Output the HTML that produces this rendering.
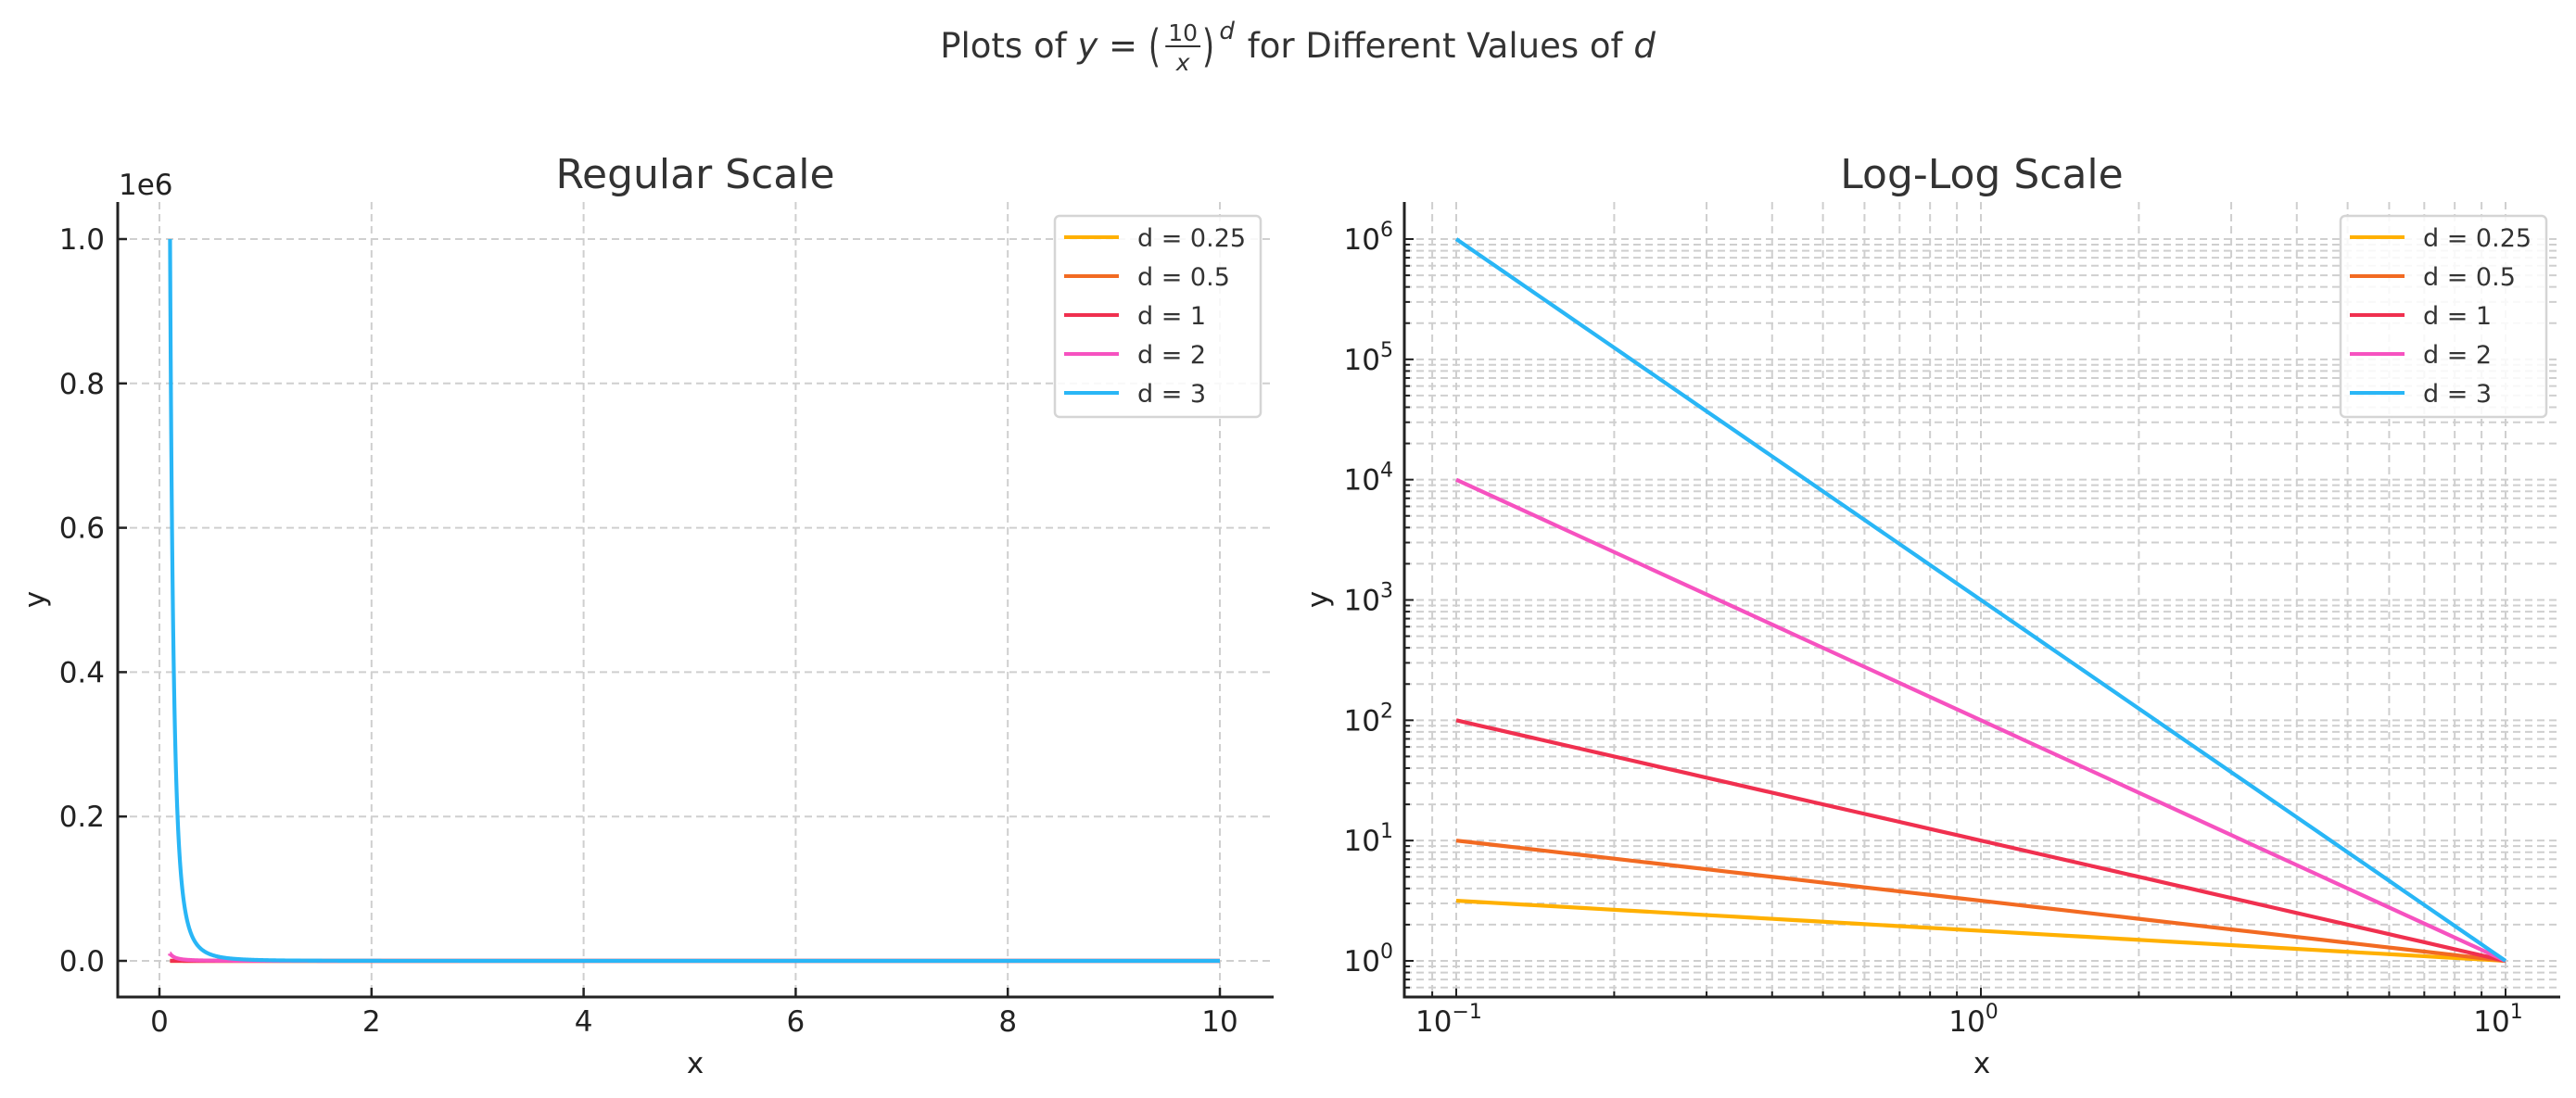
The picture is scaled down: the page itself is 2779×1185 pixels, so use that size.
<!DOCTYPE html>
<html><head><meta charset="utf-8">
<style>
html,body{margin:0;padding:0;background:#fff;}
svg{display:block;font-family:"DejaVu Sans","Liberation Sans",sans-serif;}
#suptitle text{white-space:pre;}
</style></head>
<body>
<svg id="chart" width="2779" height="1185" viewBox="0 0 2779 1185" xmlns="http://www.w3.org/2000/svg">
<rect width="2779" height="1185" fill="#fff"/>
<g id="suptitle"></g>
<g id="left"></g>
<g id="right"></g>
</svg>
<script>
const dValues = [0.25, 0.5, 1, 2, 3];
const seriesLabels = ["d = 0.25", "d = 0.5", "d = 1", "d = 2", "d = 3"];
const seriesColors = ["#FFB000", "#F26A22", "#F0304F", "#F652C0", "#29B6F6"];
const xStart = 0.1, xEnd = 10;
const linTicksX = [0, 2, 4, 6, 8, 10];
const linTicksY = [0, 0.2, 0.4, 0.6, 0.8, 1.0];
const logTicksX = [-1, 0, 1];
const logTicksY = [0, 1, 2, 3, 4, 5, 6];

const NS = "http://www.w3.org/2000/svg";
function el(parent, tag, attrs, text) {
  const e = document.createElementNS(NS, tag);
  for (const k in attrs) e.setAttribute(k, attrs[k]);
  if (text !== undefined) e.textContent = text;
  parent.appendChild(e);
  return e;
}
const gridStyle = {stroke: "#cfcfcf", "stroke-width": 2, "stroke-dasharray": "8,5", fill: "none"};
function fy(x, d) { return Math.pow(10 / x, d); }

// ---- Suptitle ----
(function () {
  const g = document.getElementById('suptitle');
  const base = 62, fs = 37, col = "#333";
  const parts = [];
  let x = 0;
  function add(txt, opts) {
    const t = el(g, 'text', Object.assign({x: 0, y: base, "font-size": fs, fill: col, "xml:space": "preserve"}, opts || {}), txt);
    const w = t.getComputedTextLength();
    parts.push({t: t, x: x, w: w});
    x += w;
    return t;
  }
  add("Plots of ");
  add("y", {"font-style": "italic"});
  add(" = ");
  const lp = add("(", {"font-size": 42});
  const fx = x + 2;
  const num = el(g, 'text', {x: 0, y: base - 18, "font-size": 25, fill: col, "text-anchor": "middle"}, "10");
  const den = el(g, 'text', {x: 0, y: base + 14, "font-size": 25, fill: col, "text-anchor": "middle", "font-style": "italic"}, "x");
  const fw = num.getComputedTextLength() + 6;
  const bar = el(g, 'line', {x1: 0, x2: 0, y1: base - 12, y2: base - 12, stroke: col, "stroke-width": 2});
  x += fw + 4;
  const rp = add(")", {"font-size": 42});
  const dsup = el(g, 'text', {x: 0, y: base - 20, "font-size": 26, fill: col, "font-style": "italic"}, "d");
  const dsx = x + 2;
  x += dsup.getComputedTextLength() + 4;
  add(" for Different Values of ");
  add("d", {"font-style": "italic"});
  const total = x;
  const x0 = 1400 - total / 2;
  parts.forEach(p => {
    if (p.t === lp || p.t === rp) {
      p.t.setAttribute('transform', `translate(${x0 + p.x},${base + 4}) scale(0.8,1.15)`);
      p.t.setAttribute('x', 0); p.t.setAttribute('y', 0);
    } else p.t.setAttribute('x', x0 + p.x);
  });
  num.setAttribute('x', x0 + fx + fw / 2);
  den.setAttribute('x', x0 + fx + fw / 2);
  bar.setAttribute('x1', x0 + fx);
  bar.setAttribute('x2', x0 + fx + fw);
  dsup.setAttribute('x', x0 + dsx);
})();

// ---- Left: regular scale ----
(function () {
  const g = document.getElementById('left');
  const L = 127, R = 1374, T = 218, B = 1076;
  const sx = v => 172 + (v - 0) * (1316 - 172) / 10;
  const sy = v => 1037 - v * (1037 - 258) / 1e6;
  linTicksX.forEach(t => {
    const gl = el(g, 'line', Object.assign({x1: sx(t), x2: sx(t), y1: T, y2: B}, gridStyle));
    
    
    el(g, 'line', {x1: sx(t), x2: sx(t), y1: B, y2: B - 10, stroke: "#222", "stroke-width": 2.5});
    const tl = el(g, 'text', {x: sx(t), y: 1113, "text-anchor": "middle", "font-size": 31, fill: "#222"}, String(t));
    
    
  });
  linTicksY.forEach(t => {
    const yy = sy(t * 1e6);
    const gl = el(g, 'line', Object.assign({x1: L, x2: R, y1: yy, y2: yy}, gridStyle));
    
    
    el(g, 'line', {x1: L, x2: L + 10, y1: yy, y2: yy, stroke: "#222", "stroke-width": 2.5});
    const tl = el(g, 'text', {x: 113, y: yy + 11, "text-anchor": "end", "font-size": 31, fill: "#222"}, t.toFixed(1));
    
    
  });
  const off = el(g, 'text', {x: 128, y: 210, "font-size": 31, fill: "#222"}, "1e6");
  
  
  dValues.forEach((d, i) => {
    let pts = [];
    const N = 600;
    for (let k = 0; k <= N; k++) {
      const x = xStart + (xEnd - xStart) * Math.pow(k / N, 2.2);
      pts.push(sx(x).toFixed(2) + "," + sy(fy(x, d)).toFixed(2));
    }
    const p = el(g, 'polyline', {points: pts.join(" "), fill: "none", stroke: seriesColors[i], "stroke-width": 4.2});
    
    
  });
  el(g, 'path', {d: `M${L},${T} V${B} H${R}`, fill: "none", stroke: "#222", "stroke-width": 3});
  const ttl = el(g, 'text', {x: 750, y: 203, "text-anchor": "middle", "font-size": 44, fill: "#333"}, "Regular Scale");
  
  
  const xl = el(g, 'text', {x: 750, y: 1158, "text-anchor": "middle", "font-size": 31, fill: "#222"}, "x");
  
  
  const yl = el(g, 'text', {x: 0, y: 0, transform: "translate(48,647) rotate(-90)", "text-anchor": "middle", "font-size": 31, fill: "#222"}, "y");
  
  
  legend(g, 1138, 233);
})();

// ---- Right: log-log ----
(function () {
  const g = document.getElementById('right');
  const L = 1515, R = 2762, T = 218, B = 1076;
  const sx = v => 1571 + (Math.log10(v) + 1) * (2703 - 1571) / 2;
  const sy = v => 1037 - Math.log10(v) * (1037 - 258) / 6;
  for (let e = -2; e <= 1; e++) for (let m = 1; m <= 9; m++) {
    const v = m * Math.pow(10, e);
    const X = sx(v);
    if (X < L + 2 || X > R - 2) continue;
    const gl = el(g, 'line', Object.assign({x1: X, x2: X, y1: T, y2: B}, gridStyle));
    
    
    el(g, 'line', {x1: X, x2: X, y1: B, y2: B - (m === 1 ? 10 : 6), stroke: "#222", "stroke-width": 2});
  }
  for (let e = -1; e <= 6; e++) for (let m = 1; m <= 9; m++) {
    const v = m * Math.pow(10, e);
    const Y = sy(v);
    if (Y < T + 2 || Y > B - 2) continue;
    const gl = el(g, 'line', Object.assign({x1: L, x2: R, y1: Y, y2: Y}, gridStyle));
    
    
    el(g, 'line', {x1: L, x2: L + (m === 1 ? 10 : 6), y1: Y, y2: Y, stroke: "#222", "stroke-width": 2});
  }
  logTicksX.forEach(t => {
    const X = sx(Math.pow(10, t));
    const tl = el(g, 'text', {x: X - 8, y: 1113, "text-anchor": "middle", "font-size": 31, fill: "#222"});
    
    
    el(tl, 'tspan', {}, "10");
    el(tl, 'tspan', {"font-size": 22, dy: -14}, t < 0 ? "\u2212" + (-t) : String(t));
  });
  logTicksY.forEach(t => {
    const Y = sy(Math.pow(10, t));
    const tl = el(g, 'text', {x: 1503, y: Y + 11, "text-anchor": "end", "font-size": 31, fill: "#222"});
    
    
    el(tl, 'tspan', {}, "10");
    el(tl, 'tspan', {"font-size": 22, dy: -14}, String(t));
  });
  dValues.forEach((d, i) => {
    let pts = [];
    const N = 50;
    for (let k = 0; k <= N; k++) {
      const x = xStart * Math.pow(xEnd / xStart, k / N);
      pts.push(sx(x).toFixed(2) + "," + sy(fy(x, d)).toFixed(2));
    }
    const p = el(g, 'polyline', {points: pts.join(" "), fill: "none", stroke: seriesColors[i], "stroke-width": 4.2});
    
    
  });
  el(g, 'path', {d: `M${L},${T} V${B} H${R}`, fill: "none", stroke: "#222", "stroke-width": 3});
  const ttl = el(g, 'text', {x: 2138, y: 203, "text-anchor": "middle", "font-size": 44, fill: "#333"}, "Log-Log Scale");
  
  
  const xl = el(g, 'text', {x: 2138, y: 1158, "text-anchor": "middle", "font-size": 31, fill: "#222"}, "x");
  
  
  const yl = el(g, 'text', {x: 0, y: 0, transform: "translate(1432,647) rotate(-90)", "text-anchor": "middle", "font-size": 31, fill: "#222"}, "y");
  
  
  legend(g, 2525, 233);
})();

function legend(g, x, y) {
  const lg = el(g, 'g', {});
  
  
  el(lg, 'rect', {x: x, y: y, width: 222, height: 217, rx: 5, fill: "#fff", "fill-opacity": 0.85, stroke: "#d5d5d5", "stroke-width": 2.5});
  seriesLabels.forEach((lab, i) => {
    const ent = el(lg, 'g', {});
    
    
    const yy = y + 23 + i * 42;
    el(ent, 'line', {x1: x + 10, x2: x + 69, y1: yy, y2: yy, stroke: seriesColors[i], "stroke-width": 4});
    el(ent, 'text', {x: x + 89, y: yy + 10, "font-size": 27, fill: "#333"}, lab);
  });
}
</script>
</body></html>
